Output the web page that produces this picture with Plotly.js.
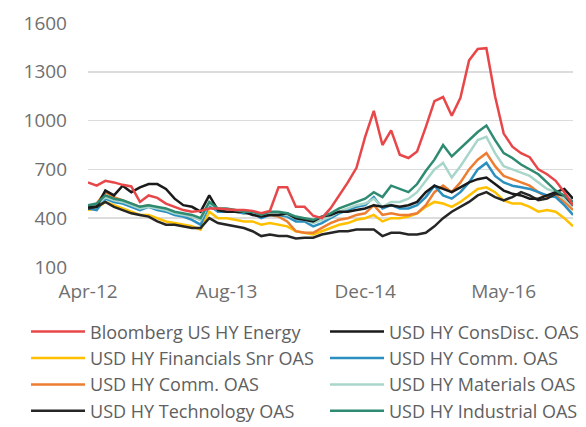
<!DOCTYPE html>
<html>
<head>
<meta charset="utf-8">
<script src="https://cdn.plot.ly/plotly-3.0.1.min.js"></script>
<style>html,body{margin:0;padding:0;background:#fff;}#chart{width:586px;height:427px;}</style>
</head>
<body>
<div id="chart"></div>
<script>
// period index (monthly-ish observations), tick labels every 16 periods
var periods = [];
for (var k = 0; k < 57; k++) periods.push(k);
var tickPositions = [0, 16, 32, 48];
var tickLabels = ["Apr-12", "Aug-13", "Dec-14", "May-16"];

var energy = [620,600,630,620,605,595,500,540,525,490,470,450,440,445,460,460,455,450,450,445,430,445,590,590,470,470,415,400,460,540,620,710,900,1060,850,940,790,770,810,960,1120,1145,1030,1140,1370,1440,1445,1150,920,840,800,775,700,670,630,560,480];
var consDisc = [470,470,570,540,600,560,590,610,610,580,520,480,470,440,540,450,440,440,440,420,410,420,420,430,400,390,380,410,420,440,440,450,460,480,470,480,470,480,500,560,600,580,560,590,620,640,650,610,570,550,540,520,520,540,560,580,520];
var financials = [450,460,500,480,460,440,420,420,400,380,370,360,350,330,440,400,400,390,380,380,360,370,360,350,320,310,300,320,340,360,370,390,400,420,380,400,400,410,430,470,500,490,470,500,540,580,590,560,510,490,490,470,440,450,440,400,350];
var commBlue = [460,450,520,500,490,470,450,470,450,440,420,410,390,360,480,440,440,440,430,430,400,420,420,410,380,380,350,370,400,430,450,470,480,530,460,480,460,460,480,530,600,540,520,560,620,700,740,660,620,600,590,580,560,540,530,480,420];
var commOrange = [470,490,560,530,510,490,470,480,460,450,430,420,410,390,470,450,450,440,430,430,410,420,410,380,320,310,310,340,370,390,400,420,430,480,420,430,420,420,430,480,560,600,560,620,700,760,800,720,660,640,620,600,560,530,540,500,450];
var materials = [480,480,530,510,500,480,460,470,460,450,430,420,410,390,490,450,450,450,440,440,420,430,430,420,400,390,370,390,410,440,460,480,490,520,470,500,500,520,560,630,700,740,650,720,800,880,900,800,720,700,680,660,620,580,560,520,470];
var technology = [460,470,500,470,450,430,420,410,380,360,360,350,340,340,400,370,360,350,340,320,290,300,290,290,275,280,280,300,310,320,320,330,330,330,290,310,310,300,300,310,350,400,440,470,500,540,560,530,510,530,560,540,510,520,550,540,480];
var industrial = [480,490,540,520,510,490,470,480,470,460,440,430,420,400,500,460,460,450,440,440,420,440,440,430,410,400,390,410,430,460,480,500,520,560,530,600,580,560,610,690,760,850,780,830,880,930,970,880,800,770,730,700,670,620,570,540,500];

var seriesNames = ["Bloomberg US HY Energy","USD HY ConsDisc. OAS","USD HY Financials Snr OAS","USD HY Comm. OAS","USD HY Comm. OAS","USD HY Materials OAS","USD HY Technology OAS","USD HY Industrial OAS"];
var seriesData = [energy, consDisc, financials, commBlue, commOrange, materials, technology, industrial];
var seriesColors = ["#e8474a","#1a1a1a","#ffc000","#2b8fc0","#ed7d31","#a9d6ca","#262626","#2e8b72"];
var seriesLegend = ["legend","legend2","legend","legend2","legend","legend2","legend","legend2"];
var drawOrder = [2,4,3,5,6,1,7,0];

var traces = drawOrder.map(function (i) {
  return {
    x: periods, y: seriesData[i], type: "scatter", mode: "lines",
    name: seriesNames[i], legend: seriesLegend[i], legendgroup: "g" + i,
    legendrank: i,
    line: {color: seriesColors[i], width: 2.5}
  };
});

var legendFont = {family: "Open Sans", size: 18, color: "#606060"};
var layout = {
  width: 586, height: 427,
  margin: {l: 88, r: 13, t: 23, b: 160, autoexpand: false},
  paper_bgcolor: "#fff", plot_bgcolor: "#fff",
  showlegend: true,
  xaxis: {
    range: [0, 56], tickvals: tickPositions, ticktext: tickLabels,
    showgrid: false, zeroline: false, showline: false, ticks: "",
    ticklabelstandoff: 11,
    tickfont: {family: "Open Sans", size: 19, color: "#6f6f6f"}
  },
  yaxis: {
    range: [100, 1600], tickvals: [100, 400, 700, 1000, 1300, 1600],
    showgrid: true, gridcolor: "#dcdcdc", gridwidth: 1.5, zeroline: false, showline: false, ticks: "",
    ticklabelstandoff: 20,
    tickfont: {family: "Open Sans", size: 19, color: "#6f6f6f"}
  },
  legend: {
    xref: "container", yref: "container",
    x: 0.0444, xanchor: "left", y: 0.266, yanchor: "top", orientation: "v",
    font: legendFont, bgcolor: "rgba(0,0,0,0)", tracegroupgap: 0, itemwidth: 54,
    traceorder: "normal"
  },
  legend2: {
    xref: "container", yref: "container",
    x: 0.5546, xanchor: "left", y: 0.266, yanchor: "top", orientation: "v",
    font: legendFont, bgcolor: "rgba(0,0,0,0)", tracegroupgap: 0, itemwidth: 54,
    traceorder: "normal"
  }
};

Plotly.newPlot("chart", traces, layout, {displayModeBar: false, staticPlot: true});
</script>
</body>
</html>
